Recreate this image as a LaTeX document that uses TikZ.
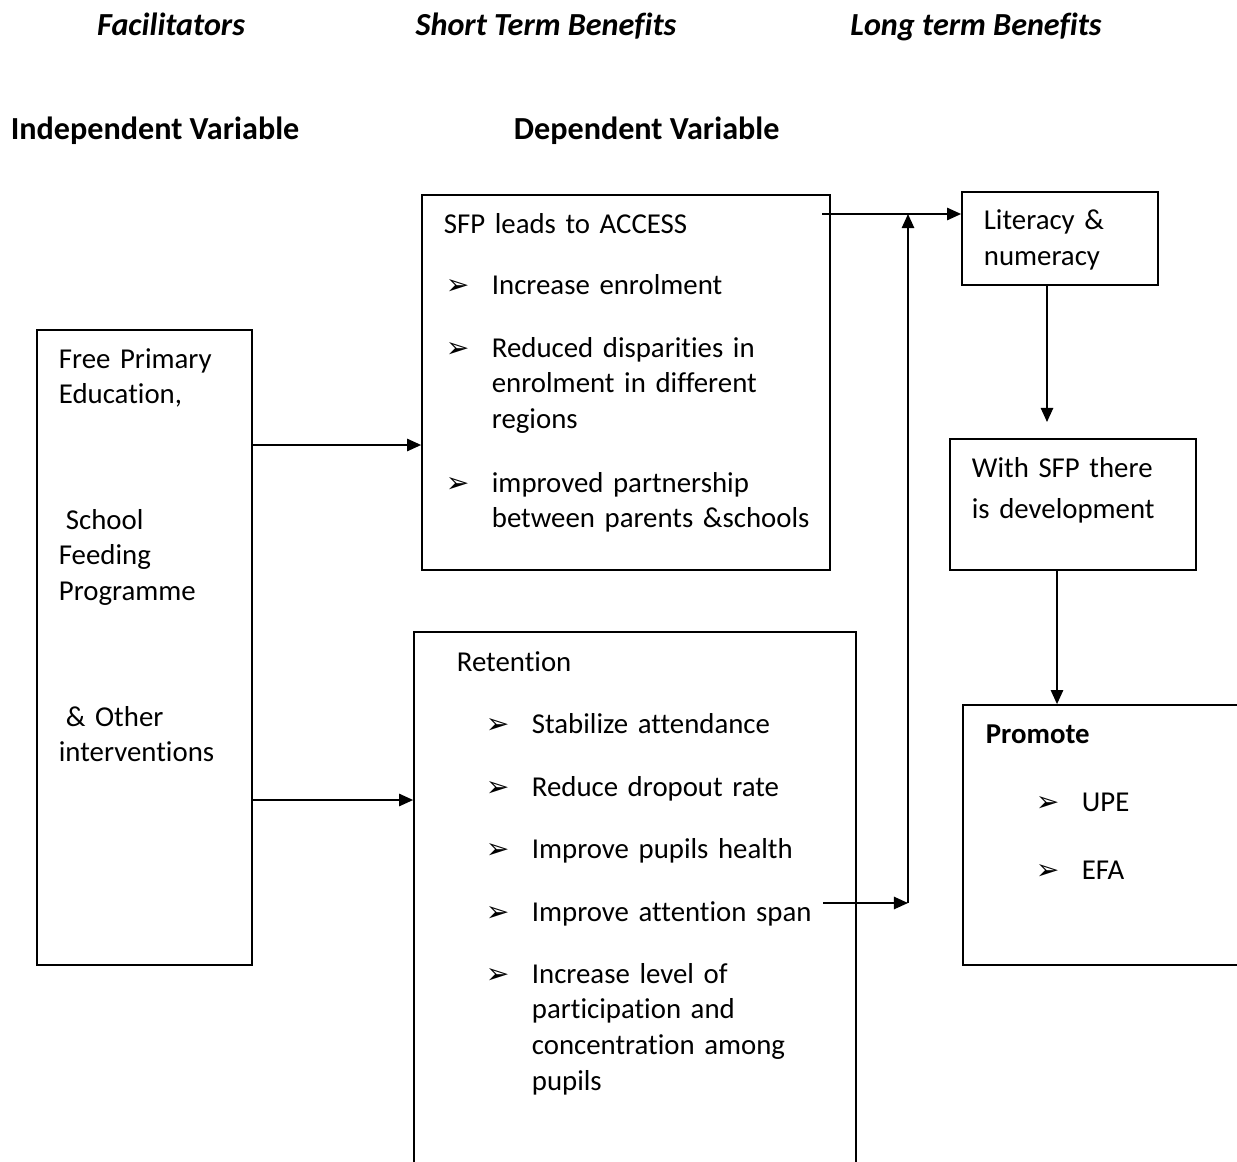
\documentclass[tikz,border=0pt]{standalone}
\usepackage{fontspec}
\setmainfont{Carlito}[Ligatures=NoCommon]
\newfontfamily\arrfont{DejaVu Sans}
\usetikzlibrary{arrows.meta}
\newcommand{\bul}{{\arrfont\fontsize{16}{16}\selectfont ➢}}

\begin{document}
\begin{tikzpicture}[x=0.02cm,y=-0.02cm,line width=1pt,
  >={Triangle[length=8pt,width=7pt]},
  box/.style={draw,inner sep=0pt},
  txt/.style={anchor=base west,inner sep=0pt,align=left,text width=9cm,
    font=\fontsize{16.4}{20.4}\selectfont},
  head/.style={anchor=base,inner sep=0pt,font=\fontsize{18.3}{22}\selectfont\bfseries\itshape},
  var/.style={anchor=base west,inner sep=0pt,font=\fontsize{18.3}{22}\selectfont\bfseries},
  bullet/.style={anchor=base west,inner sep=0pt}]

  \useasboundingbox (0,0) rectangle (1237,1162);
  \clip (0,0) rectangle (1237,1162);

  % column headings
  \node[head] (fac) at (171,36) {Facilitators};
  \node[head] (short) at (546,36) {Short Term Benefits};
  \node[head] (long) at (976,36) {Long term Benefits};
  \node[var] (indep) at (10,140) {Independent Variable};
  \node[var] (dep) at (513,140) {Dependent Variable};

  % boxes
  \node[box,minimum width=4.30cm,minimum height=12.70cm] (free) at (144.5,647.5) {};
  \node[box,minimum width=8.16cm,minimum height=7.50cm] (access) at (626,382.5) {};
  \node[box,minimum width=8.84cm,minimum height=10.96cm] (retain) at (635,906) {};
  \node[box,minimum width=3.92cm,minimum height=1.86cm] (lit) at (1060,238.5) {};
  \node[box,minimum width=4.92cm,minimum height=2.62cm] (dev) at (1073,504.5) {};
  \node[box,minimum width=5.94cm,minimum height=5.20cm] (prom) at (1111.5,835) {};

  % facilitators
  \node[txt] (free1) at (58,368) {Free Primary\\Education,};
  \node[txt] (free2) at (58,529) {\hspace{4pt}School\\Feeding\\Programme};
  \node[txt] (free3) at (58,726) {\hspace{4pt}\& Other\\interventions};

  % access
  \node[txt] (acchead) at (443,234) {SFP leads to ACCESS};
  \node[txt] (acc1) at (491,295) {Increase enrolment};
  \node[txt] (acc2) at (491,357) {Reduced disparities in\\enrolment in different\\regions};
  \node[txt] (acc3) at (491,492) {improved partnership\\between parents \&schools};
  \foreach \y [count=\i] in {295,357,492}
    \node[bullet] (accb\i) at (445,\y) {\bul};

  % retention
  \node[txt] (rethead) at (456,671) {Retention};
  \node[txt] (ret1) at (531,733) {Stabilize attendance};
  \node[txt] (ret2) at (531,796) {Reduce dropout rate};
  \node[txt] (ret3) at (531,858) {Improve pupils health};
  \node[txt] (ret4) at (531,921) {Improve attention span};
  \node[txt] (ret5) at (531,983) {Increase level of\\participation and\\concentration among\\pupils};
  \foreach \y [count=\i] in {733,796,858,921,983}
    \node[bullet] (retb\i) at (485,\y) {\bul};

  % long term
  \node[txt] (littxt) at (983,230) {Literacy \&\\numeracy};
  \node[txt] (devtxt) at (971,477) {With SFP there\\[0.12cm]is development};
  \node[txt,font=\fontsize{16.4}{20.4}\selectfont\bfseries] (promhead) at (985,743) {Promote};
  \node[txt] (prom1) at (1081,811) {UPE};
  \node[txt] (prom2) at (1081,879) {EFA};
  \foreach \y [count=\i] in {811,879}
    \node[bullet] (promb\i) at (1035,\y) {\bul};

  % connectors
  \coordinate (accout) at (822,214);
  \coordinate (junc) at (908,214);
  \coordinate (spanout) at (823,903);
  \coordinate (spanturn) at (908,903);
  \coordinate (devin) at (1047,422);

  \draw[->] (free.east |- 0,445) -- (access.west |- 0,445);
  \draw[->] (free.east |- 0,800) -- (retain.west |- 0,800);
  \draw[->] (accout) -- (lit.west |- accout);
  \draw[->] (spanout) -- (spanturn);
  \draw[->] (spanturn) -- (junc);
  \draw[->] (lit.south -| devin) -- (devin);
  \draw[->] (dev.south -| 1057,0) -- (prom.north -| 1057,0);
\end{tikzpicture}
\end{document}
